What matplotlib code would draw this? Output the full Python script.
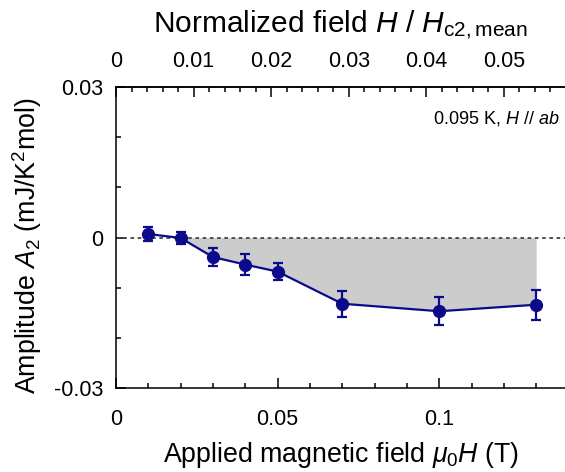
import matplotlib
matplotlib.use("Agg")
import matplotlib.pyplot as plt
from matplotlib.ticker import MultipleLocator, FixedLocator, FuncFormatter
import numpy as np

plt.rcParams['font.family'] = ['Liberation Sans', 'DejaVu Sans']
plt.rcParams['mathtext.fontset'] = 'custom'
plt.rcParams['mathtext.rm'] = 'Liberation Sans'
plt.rcParams['mathtext.it'] = 'Liberation Sans:italic'
plt.rcParams['mathtext.bf'] = 'Liberation Sans:bold'
plt.rcParams['axes.unicode_minus'] = False

# data
field_T = [0.01, 0.02, 0.03, 0.04, 0.05, 0.07, 0.10, 0.13]
amp_A2 = [0.0007, -0.0001, -0.0039, -0.0054, -0.0068, -0.0132, -0.0147, -0.0134]
amp_err = [0.0013, 0.0011, 0.0018, 0.0021, 0.0017, 0.0026, 0.0028, 0.0030]
Hc2_mean = 2.4  # T
top_ticks = [0, 0.01, 0.02, 0.03, 0.04, 0.05]

x = np.array(field_T)
y = np.array(amp_A2)

fig = plt.figure(figsize=(5.65, 4.72), dpi=100)
W, H = 565, 472
left, top, bottom = 116, 87, 388
xmax = 0.139
px_per_T = 3232
right = left + xmax * px_per_T
ax = fig.add_axes([left / W, 1 - bottom / H, (right - left) / W, (bottom - top) / H])

ax.set_xlim(0, xmax)
ax.set_ylim(-0.03, 0.03)

# shaded area between curve and zero (negative part)
mask = x >= 0.02
ax.fill_between(x[mask], y[mask], 0, where=y[mask] <= 0, interpolate=True,
                color='#cccccc', linewidth=0, zorder=1)
ax.axhline(0, color='#444444', linestyle=(0, (2, 2)), linewidth=1.3, zorder=2)

ax.errorbar(x, y, yerr=amp_err, color='#0a0a8a', marker='o', markersize=8.5,
            linewidth=1.6, elinewidth=1.6, capsize=3.6, capthick=1.6, zorder=3)

for s in ax.spines.values():
    s.set_linewidth(1.1)
ax.spines['right'].set_visible(False)

ax.xaxis.set_major_locator(MultipleLocator(0.05))
ax.xaxis.set_minor_locator(MultipleLocator(0.01))
ax.yaxis.set_major_locator(MultipleLocator(0.03))
ax.yaxis.set_minor_locator(MultipleLocator(0.01))

def fmt(v, pos):
    if abs(v) < 1e-12:
        return '0'
    return ('%.3f' % v).rstrip('0').rstrip('.')

ax.xaxis.set_major_formatter(FuncFormatter(fmt))
ax.yaxis.set_major_formatter(FuncFormatter(fmt))
ax.tick_params(axis='both', which='major', direction='in', length=7, width=1.1,
               labelsize=15.5)
ax.tick_params(axis='both', which='minor', direction='in', length=3.5, width=1.1)
ax.tick_params(axis='y', which='both', right=False)
ax.tick_params(axis='x', which='both', top=False)
ax.tick_params(axis='x', which='major', pad=15)
ax.tick_params(axis='y', which='major', pad=9)

ax.set_xlabel(r'Applied magnetic field $\mu_0H$ (T)', fontsize=19.3, labelpad=7)
ax.set_ylabel(r'Amplitude $A_2$ (mJ/K$^2$mol)', fontsize=19.3)
ax.yaxis.set_label_coords(-0.16, 0.472)

sec = ax.secondary_xaxis('top', functions=(lambda t: t / Hc2_mean, lambda n: n * Hc2_mean))
sec.xaxis.set_major_locator(FixedLocator(top_ticks))
sec.xaxis.set_minor_locator(MultipleLocator(0.002))
sec.xaxis.set_major_formatter(FuncFormatter(fmt))
sec.tick_params(axis='x', which='major', direction='in', length=7, width=1.1,
                labelsize=15.5, pad=10.5)
sec.tick_params(axis='x', which='minor', direction='in', length=3.5, width=1.1)
sec.spines['top'].set_linewidth(1.1)
sec.set_xlabel(r'Normalized field $H$ / $H_{\rm c2,mean}$', fontsize=21.5, labelpad=14.5)

fig.text(560 / W, 1 - 118 / H, r'0.095 K, $H$ // $ab$', fontsize=13,
         ha='right', va='center')

fig.savefig('out.png', dpi=100)
